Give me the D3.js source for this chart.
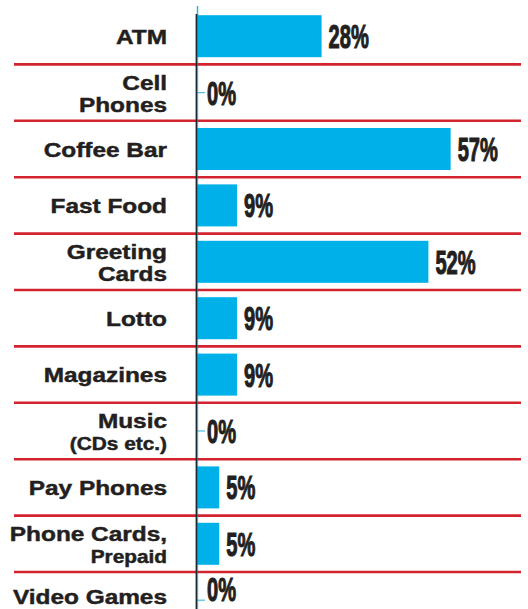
<!DOCTYPE html>
<html>
<head>
<meta charset="utf-8">
<script src="https://cdn.jsdelivr.net/npm/d3@7"></script>
<style>
  html, body { margin: 0; padding: 0; background: #fff; }
  svg { display: block; }
</style>
</head>
<body>
<svg id="chart" width="528" height="609"></svg>
<script>
// Share of shoppers buying each item (percent)
const categories = [
  "ATM", "Cell\nPhones", "Coffee Bar", "Fast Food", "Greeting\nCards",
  "Lotto", "Magazines", "Music\n(CDs etc.)", "Pay Phones",
  "Phone Cards,\nPrepaid", "Video Games"
];
const values = [28, 0, 57, 9, 52, 9, 9, 0, 5, 5, 0];
const valueLabels = ["28%", "0%", "57%", "9%", "52%", "9%", "9%", "0%", "5%", "5%", "0%"];
// Categories whose second label line is set in the smaller size
const smallSecondLine = ["Music\n(CDs etc.)", "Phone Cards,\nPrepaid"];

const W = 528, H = 609;
const BLUE = "#00b0e9", RED = "#d2232f", INK = "#231f20";
const rowStep = 56.4;

const svg = d3.select("#chart");

const x = d3.scaleLinear().domain([0, 100]).range([197, 642]);
const y = d3.scaleBand().domain(categories).range([8, 8 + rowStep * categories.length]);
const barH = 42;
const mid = c => y(c) + y.bandwidth() / 2;

const rows = categories.map((c, i) => ({ c, v: values[i], label: valueLabels[i] }));

// Red row separators
svg.append("g").selectAll("line")
  .data(categories.slice(0, -1))
  .join("line")
  .attr("x1", 14).attr("x2", 521)
  .attr("y1", c => y(c) + y.bandwidth())
  .attr("y2", c => y(c) + y.bandwidth())
  .attr("stroke", RED).attr("stroke-width", 2.6);

// Bars
svg.append("g").selectAll("rect")
  .data(rows.filter(d => d.v > 0))
  .join("rect")
  .attr("x", x(0))
  .attr("y", d => mid(d.c) - barH / 2)
  .attr("width", d => x(d.v) - x(0))
  .attr("height", barH)
  .attr("fill", BLUE);

// Zero-value stubs
svg.append("g").selectAll("line")
  .data(rows.filter(d => d.v === 0))
  .join("line")
  .attr("x1", x(0)).attr("x2", x(0) + 8)
  .attr("y1", d => mid(d.c)).attr("y2", d => mid(d.c))
  .attr("stroke", "#4bbde8").attr("stroke-width", 1.2);

// Vertical baseline
svg.append("line")
  .attr("x1", x(0) + 0.5).attr("x2", x(0) + 0.5)
  .attr("y1", 6).attr("y2", 15)
  .attr("stroke", "#29b4e6").attr("stroke-width", 1.5);
svg.append("line")
  .attr("x1", x(0) - 0.5).attr("x2", x(0) - 0.5)
  .attr("y1", 14).attr("y2", H)
  .attr("stroke", "#1b2a31").attr("stroke-width", 1.8);
svg.append("line")
  .attr("x1", x(0) + 0.7).attr("x2", x(0) + 0.7)
  .attr("y1", 14).attr("y2", H)
  .attr("stroke", "#2a8fb8").attr("stroke-width", 0.6);

// Keep baselines inside the canvas for the last row
const fit = (base, margin) => Math.min(base, H - margin);

// Category labels (right-aligned, wide bold sans)
const labelX = 167;
const catG = svg.append("g")
  .attr("font-family", "'Liberation Sans', Arial, Helvetica, sans-serif")
  .attr("font-weight", "bold")
  .attr("fill", INK)
  .attr("stroke", INK)
  .attr("stroke-width", 0.45);

rows.forEach(d => {
  const lines = d.c.split("\n");
  const cy = mid(d.c);
  const small = smallSecondLine.includes(d.c);
  lines.forEach((t, k) => {
    let base;
    if (lines.length === 1) base = cy + 7.5;
    else base = k === 0 ? cy - 3 : cy + 19;
    const size = (small && k === 1) ? 17.5 : 20.5;
    catG.append("text")
      .attr("transform", `translate(${labelX},${fit(base, 5)}) scale(1.19,1)`)
      .attr("text-anchor", "end")
      .attr("font-size", size)
      .text(t);
  });
});

// Value labels (condensed heavy figures)
svg.append("g")
  .attr("font-family", "'Liberation Sans', Arial, Helvetica, sans-serif")
  .attr("font-weight", "bold")
  .attr("fill", INK)
  .attr("stroke", INK)
  .attr("stroke-width", 1.1)
  .selectAll("text")
  .data(rows)
  .join("text")
  .attr("transform", d => `translate(${x(d.v) + (d.v === 0 ? 10 : 7)},${fit(mid(d.c) + 12, 8)}) scale(0.6,1)`)
  .attr("font-size", 33.5)
  .text(d => d.label);
</script>
</body>
</html>
